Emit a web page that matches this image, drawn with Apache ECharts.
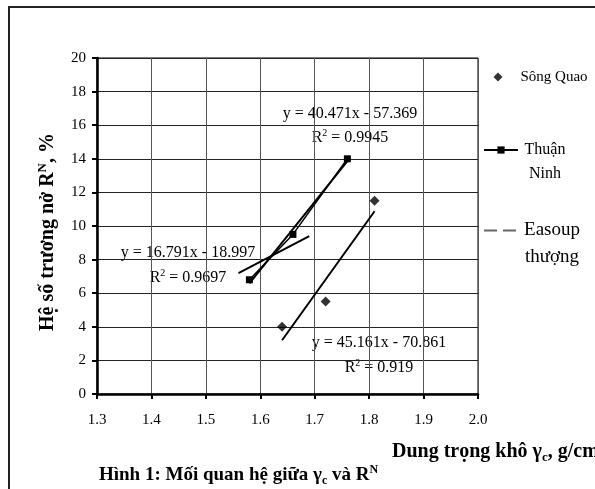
<!DOCTYPE html>
<html>
<head>
<meta charset="utf-8">
<script src="https://cdn.jsdelivr.net/npm/echarts@6/dist/echarts.min.js"></script>
<style>
html,body{margin:0;padding:0;background:#fff;}
#chart{width:595px;height:489px;}
</style>
</head>
<body>
<div id="chart"></div>
<script>
// ---- data ----
const xTickLabels = ['1.3','1.4','1.5','1.6','1.7','1.8','1.9','2.0'];
const yTickLabels = ['0','2','4','6','8','10','12','14','16','18','20'];

const songQuaoX = [1.64, 1.72, 1.81];
const songQuaoY = [4.0, 5.5, 11.5];

const thuanNinhX = [1.58, 1.66, 1.76];
const thuanNinhY = [6.8, 9.5, 14.0];

// trend line end points
const trendSongQuaoX = [1.64, 1.81];
const trendSongQuaoY = [3.2, 10.88];
const trendThuanNinhX = [1.58, 1.76];
const trendThuanNinhY = [6.58, 13.86];
const trendEasoupX = [1.56, 1.69];
const trendEasoupY = [7.2, 9.4];

const seriesNames = ['Sông Quao', 'Thuận Ninh', 'Easoup thượng'];
const eqSongQuao = ['y = 45.161x - 70.861', '0.919'];
const eqThuanNinh = ['y = 40.471x - 57.369', '0.9945'];
const eqEasoup = ['y = 16.791x - 18.997', '0.9697'];

const FONT = '"Liberation Serif", "DejaVu Serif", serif';
const pairs = (xs, ys) => xs.map((x, i) => [x, ys[i]]);

const chart = echarts.init(document.getElementById('chart'), null, {renderer: 'canvas'});

const eqRich = {
  t: {fontFamily: FONT, fontSize: 16, color: '#000', lineHeight: 19},
  s: {fontFamily: FONT, fontSize: 10, color: '#000', lineHeight: 10, verticalAlign: 'top'}
};
function eqLabel(lines, cx, y1, y2) {
  return [
    {type: 'text', x: cx, y: y1, silent: true,
     style: {text: '{t|' + lines[0] + '}', rich: eqRich, align: 'center', verticalAlign: 'middle'}},
    {type: 'text', x: cx, y: y2, silent: true,
     style: {text: '{t|R}{s|2}{t| = ' + lines[1] + '}', rich: eqRich, align: 'center', verticalAlign: 'middle'}}
  ];
}

function boldRich(size, small) {
  return {
    b: {fontFamily: FONT, fontSize: size, fontWeight: 'bold', color: '#000', lineHeight: size + 4},
    sup: {fontFamily: FONT, fontSize: small, fontWeight: 'bold', color: '#000', lineHeight: small + 1, verticalAlign: 'top'},
    sub: {fontFamily: FONT, fontSize: small, fontWeight: 'bold', color: '#000', lineHeight: small + 1, verticalAlign: 'bottom'}
  };
}

const trendStyle = {color: '#000', width: 2};

const option = {
  animation: false,
  backgroundColor: '#fff',
  grid: {left: 97, top: 58, right: 117, bottom: 95, show: true, borderColor: '#000', borderWidth: 1, backgroundColor: 'transparent'},
  xAxis: {
    type: 'value', min: 1.3, max: 2.0, interval: 0.1,
    axisLine: {show: true, onZero: false, lineStyle: {color: '#000', width: 2.5}},
    axisTick: {show: true, inside: false, length: 5, lineStyle: {color: '#000', width: 2}},
    axisLabel: {margin: 19, fontFamily: FONT, fontSize: 15, color: '#000',
      formatter: v => xTickLabels[Math.round((v - 1.3) * 10)] || ''},
    splitLine: {show: true, lineStyle: {color: '#555', width: 1}}
  },
  yAxis: {
    type: 'value', min: 0, max: 20, interval: 2,
    axisLine: {show: true, onZero: false, lineStyle: {color: '#000', width: 2.5}},
    axisTick: {show: true, inside: false, length: 5, lineStyle: {color: '#000', width: 2}},
    axisLabel: {margin: 11, fontFamily: FONT, fontSize: 15, color: '#000',
      formatter: v => yTickLabels[Math.round(v / 2)] || ''},
    splitLine: {show: true, lineStyle: {color: '#222', width: 1}}
  },
  legend: [
    {
      data: [seriesNames[0]], left: 493.5, top: 68, padding: 0, itemWidth: 9, itemHeight: 9,
      textStyle: {fontFamily: FONT, fontSize: 15, color: '#000', lineHeight: 18, padding: [0, 0, 0, 13]}
    },
    {
      data: [seriesNames[1]], left: 483, top: 114, padding: 0, itemWidth: 34, itemHeight: 9,
      formatter: () => '{c|Thuận}\n{c|Ninh}',
      textStyle: {fontFamily: FONT, fontSize: 16, color: '#000', lineHeight: 24, padding: [24, 0, 0, 0],
        rich: {c: {fontFamily: FONT, fontSize: 16, color: '#000', lineHeight: 24, width: 44, align: 'center'}}}
    },
    {
      data: [seriesNames[2]], left: 483, top: 190, padding: 0, itemWidth: 34, itemHeight: 9,
      formatter: () => '{e|Easoup}\n{e|thượng}',
      itemStyle: {opacity: 0},
      textStyle: {fontFamily: FONT, fontSize: 19, color: '#000', lineHeight: 27, padding: [27, 0, 0, 0],
        rich: {e: {fontFamily: FONT, fontSize: 19, color: '#000', lineHeight: 27, width: 58, align: 'center'}}}
    }
  ],
  series: [
    {
      name: seriesNames[0], type: 'scatter', symbol: 'diamond', symbolSize: 10,
      itemStyle: {color: '#000'}, data: pairs(songQuaoX, songQuaoY), z: 5
    },
    {
      name: seriesNames[1], type: 'line', symbol: 'rect', symbolSize: 7, showSymbol: true,
      itemStyle: {color: '#000'}, lineStyle: {color: '#000', width: 1.5},
      data: pairs(thuanNinhX, thuanNinhY), z: 5
    },
    {
      name: seriesNames[2], type: 'line', symbol: 'none',
      itemStyle: {color: '#666'}, lineStyle: {color: '#666', width: 1.5, type: [13, 6]},
      data: []
    },
    {name: 'trend1', type: 'line', symbol: 'none', silent: true, lineStyle: trendStyle, data: pairs(trendSongQuaoX, trendSongQuaoY)},
    {name: 'trend2', type: 'line', symbol: 'none', silent: true, lineStyle: trendStyle, data: pairs(trendThuanNinhX, trendThuanNinhY)},
    {name: 'trend3', type: 'line', symbol: 'none', silent: true, lineStyle: trendStyle, data: pairs(trendEasoupX, trendEasoupY)}
  ],
  graphic: [
    {type: 'rect', silent: true, shape: {x: 9, y: 7, width: 800, height: 700},
     style: {fill: 'none', stroke: '#222', lineWidth: 2}},
    ...eqLabel(eqThuanNinh, 350, 114, 138),
    ...eqLabel(eqEasoup, 188, 253, 278),
    ...eqLabel(eqSongQuao, 379, 343, 368),
    {type: 'text', x: 48, y: 232, rotation: Math.PI / 2, silent: true,
     style: {text: '{b|Hệ số trương nở R}{sup|N}{b|, %}', rich: boldRich(20, 13), align: 'center', verticalAlign: 'middle'}},
    {type: 'text', x: 392, y: 452, silent: true,
     style: {text: '{b|Dung trọng khô }{b|γ}{sub|c}{b|, g/cm}{sup|3}', rich: boldRich(20, 13), align: 'left', verticalAlign: 'middle'}},
    {type: 'text', x: 99, y: 475, silent: true,
     style: {text: '{b|Hình 1: Mối quan hệ giữa }{b|γ}{sub|c}{b| và R}{sup|N}', rich: boldRich(19, 12), align: 'left', verticalAlign: 'middle'}}
  ]
};
chart.setOption(option);
</script>
</body>
</html>
